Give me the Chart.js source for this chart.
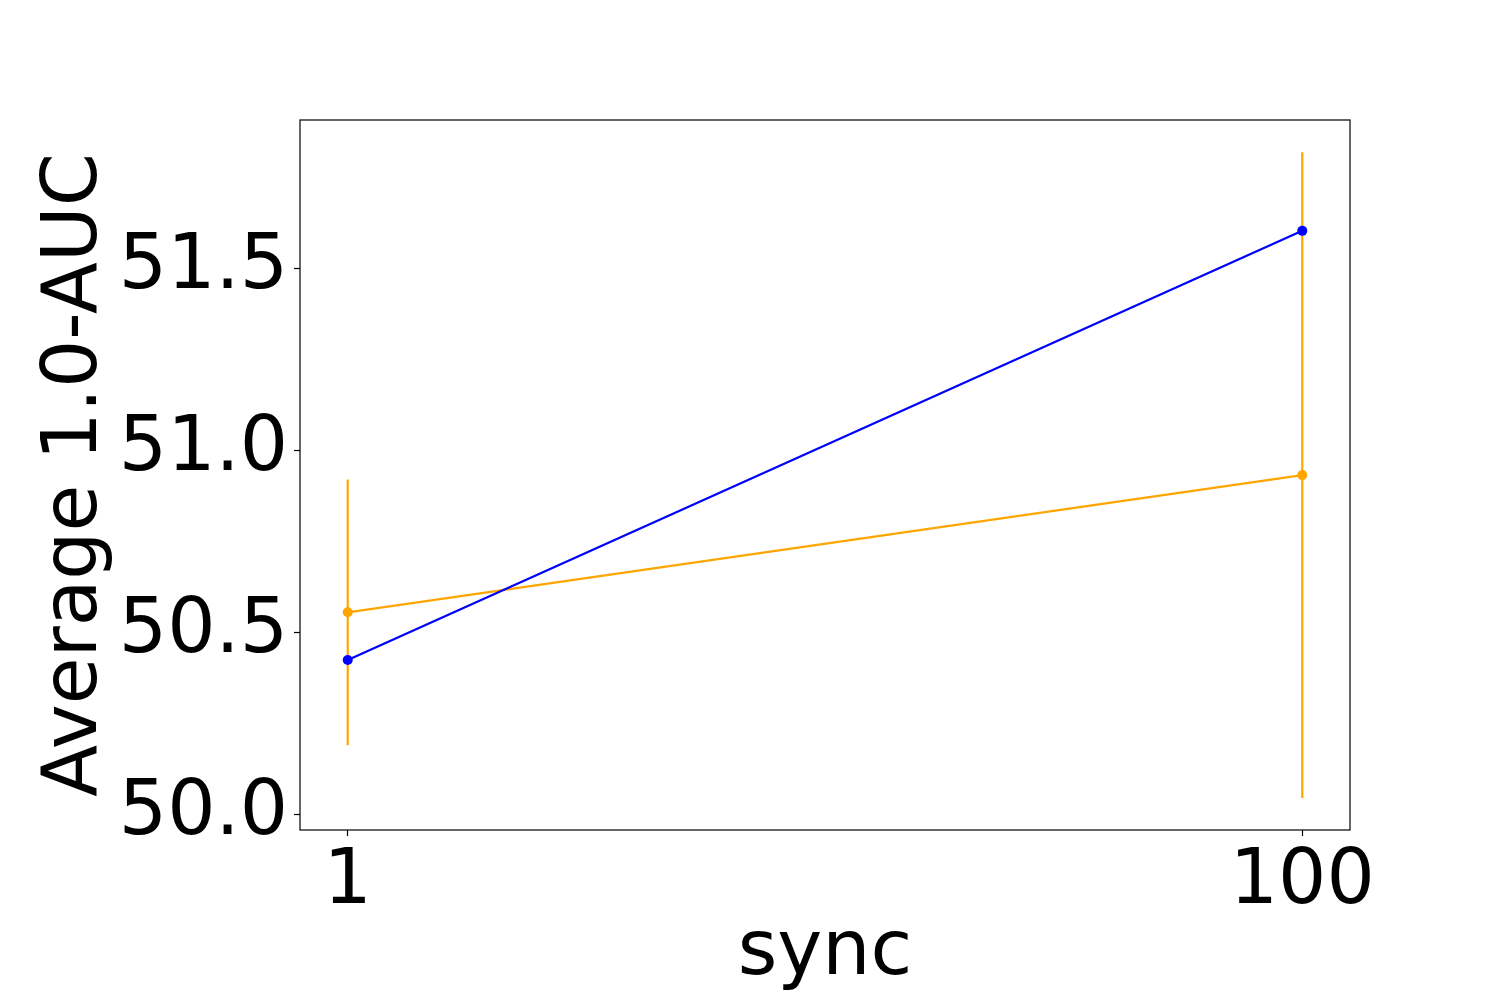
<!DOCTYPE html>
<html>
<head>
<meta charset="utf-8">
<script src="https://cdn.jsdelivr.net/npm/chart.js@4.4.1/dist/chart.umd.min.js"></script>
<style>
  html, body { margin: 0; padding: 0; background: #fff; }
  #wrap { width: 1500px; height: 1000px; position: relative; }
</style>
</head>
<body>
<div id="wrap"><canvas id="c" width="1500" height="1000"></canvas></div>
<script>
const xValues = [1, 100];
const xTicks = [1, 100];
const yTicks = [50.0, 50.5, 51.0, 51.5];
const blueValues = [50.425, 51.604];
const orangeValues = [50.556, 50.933];
const orangeErr = [0.365, 0.887];
const xLabel = 'sync';
const yLabel = 'Average 1.0-AUC';

const FONT = 'DejaVu Sans';

const errorBarPlugin = {
  id: 'errorBars',
  beforeDatasetsDraw(chart) {
    const ctx = chart.ctx;
    const xs = chart.scales.x, ys = chart.scales.y;
    ctx.save();
    ctx.strokeStyle = 'orange';
    ctx.lineWidth = 2.2;
    for (let i = 0; i < xValues.length; i++) {
      const px = xs.getPixelForValue(xValues[i]);
      ctx.beginPath();
      ctx.moveTo(px, ys.getPixelForValue(orangeValues[i] - orangeErr[i]));
      ctx.lineTo(px, ys.getPixelForValue(orangeValues[i] + orangeErr[i]));
      ctx.stroke();
    }
    ctx.restore();
  }
};

const framePlugin = {
  id: 'frame',
  afterDraw(chart) {
    const a = chart.chartArea, ctx = chart.ctx;
    ctx.save();
    ctx.strokeStyle = '#000';
    ctx.lineWidth = 1.2;
    ctx.strokeRect(a.left, a.top, a.right - a.left, a.bottom - a.top);
    ctx.restore();
  }
};

new Chart(document.getElementById('c'), {
  type: 'line',
  data: {
    datasets: [
      {
        data: xValues.map((x, i) => ({x: x, y: blueValues[i]})),
        borderColor: 'blue', backgroundColor: 'blue',
        borderWidth: 2.2, pointRadius: 5, pointBorderWidth: 0,
        pointBackgroundColor: 'blue', tension: 0
      },
      {
        data: xValues.map((x, i) => ({x: x, y: orangeValues[i]})),
        borderColor: 'orange', backgroundColor: 'orange',
        borderWidth: 2.2, pointRadius: 5, pointBorderWidth: 0,
        pointBackgroundColor: 'orange', tension: 0
      }
    ]
  },
  options: {
    responsive: false,
    animation: false,
    layout: { padding: { top: 120, right: 150, left: 0, bottom: 0 } },
    plugins: { legend: { display: false }, tooltip: { enabled: false } },
    scales: {
      x: {
        type: 'linear',
        min: -3.95, max: 104.95,
        afterBuildTicks(s) { s.ticks = xTicks.map(v => ({value: v})); },
        afterFit(s) { s.height = 170; },
        grid: { drawOnChartArea: false, tickLength: 6, color: '#000', tickWidth: 1.2 },
        border: { display: false },
        ticks: { color: '#000', font: { family: FONT, size: 76 }, padding: 2, maxRotation: 0,
                 callback: v => String(v) },
        title: { display: true, text: xLabel, color: '#000', font: { family: FONT, size: 76 }, padding: { top: 6, bottom: 0 } }
      },
      y: {
        type: 'linear',
        min: 49.958, max: 51.9086,
        afterBuildTicks(s) { s.ticks = yTicks.map(v => ({value: v})); },
        afterFit(s) { s.width = 300; },
        grid: { drawOnChartArea: false, tickLength: 6, color: '#000', tickWidth: 1.2 },
        border: { display: false },
        ticks: { color: '#000', font: { family: FONT, size: 76 }, padding: 6,
                 callback: v => v.toFixed(1) },
        title: { display: true, text: yLabel, color: '#000', font: { family: FONT, size: 76 }, padding: { top: 31, bottom: 0 } }
      }
    }
  },
  plugins: [errorBarPlugin, framePlugin]
});
</script>
</body>
</html>
